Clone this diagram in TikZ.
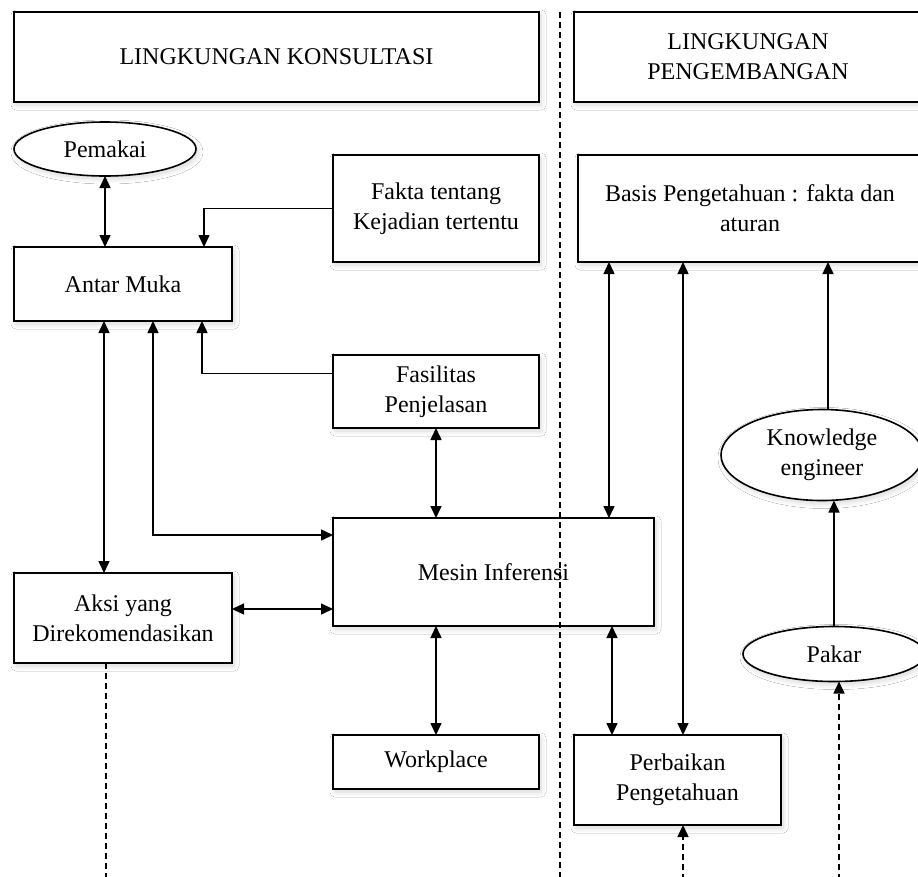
\documentclass[tikz,border=0pt]{standalone}
\usepackage{fontspec}
\setmainfont{Liberation Serif}
\usetikzlibrary{arrows.meta,shapes.geometric,shadows.blur}

\begin{document}
\begin{tikzpicture}[x=1pt,y=-1pt,
  >={Triangle[length=12pt,width=11pt]},
  every node/.style={font=\fontsize{24}{30}\selectfont, align=center, inner sep=0pt, outer sep=0pt},
  soft/.style={blur shadow={shadow xshift=2pt, shadow yshift=-3pt, shadow blur radius=5pt, shadow blur steps=12, shadow opacity=16}},
  box/.style={draw=black, line width=1.6pt, fill=white, rectangle, soft},
  oval/.style={draw=black, line width=1.6pt, fill=white, ellipse, soft},
  link/.style={line width=1.5pt, ->},
  both/.style={line width=1.5pt, <->},
  divider/.style={line width=1.5pt, dash pattern=on 6pt off 4pt},
]
\useasboundingbox (0,0) rectangle (918,876);
\fill[white] (0,0) rectangle (918,876);
\clip (0,0) rectangle (918,876);

% headers
\node[box, minimum width=525pt, minimum height=90pt] (konsul) at (276.5,57) {LINGKUNGAN KONSULTASI};
\node[box, minimum width=348pt, minimum height=90pt] (pengemb) at (748,57) {LINGKUNGAN\\PENGEMBANGAN};

% consultation side
\node[oval, minimum width=182pt, minimum height=54pt] (pemakai) at (105,149) {Pemakai};
\node[box, minimum width=218pt, minimum height=74pt] (antar) at (123,284) {Antar Muka};
\node[box, minimum width=206pt, minimum height=107pt] (fakta) at (436,208.5) {Fakta tentang\\Kejadian tertentu};
\node[box, minimum width=206pt, minimum height=73pt] (fasil) at (436,391.5) {Fasilitas\\Penjelasan};
\node[box, minimum width=321pt, minimum height=108pt] (mesin) at (493.5,572) {Mesin Inferensi};
\node[box, minimum width=218pt, minimum height=90pt] (aksi) at (123,618) {Aksi yang\\Direkomendasikan};
\node[box, minimum width=206pt, minimum height=54pt] (work) at (436,762) {Workplace};

% development side
\node[box, minimum width=344pt, minimum height=107pt] (basis) at (750,208.5) {Basis Pengetahuan : fakta dan\\aturan};
\node[oval, minimum width=202pt, minimum height=91pt] (ke) at (822,455) {Knowledge\\engineer};
\node[oval, minimum width=182pt, minimum height=55pt] (pakar) at (834,654) {Pakar};
\node[box, minimum width=207pt, minimum height=90pt] (perb) at (677.5,780) {Perbaikan\\Pengetahuan};

% free ends at the lower edge and the divider
\coordinate (divtop) at (560,12);
\coordinate (divbot) at (560,880);
\coordinate (e1) at (839,880);
\coordinate (e2) at (683,880);
\coordinate (e3) at (106,880);

% connectors, consultation side
\draw[both] (pemakai.south) -- (pemakai.south |- antar.north);
\draw[link] (fakta.west) -| ([xshift=81pt]antar.north);
\draw[both] ([xshift=-19pt]antar.south) -- ([xshift=-19pt]aksi.north);
\draw[both] ([xshift=30pt]antar.south) |- ([yshift=37pt]mesin.west);
\draw[link] ([yshift=18pt]fasil.west) -| ([xshift=79pt]antar.south);
\draw[both] (fasil.south) -- (fasil.south |- mesin.north);
\draw[both] ([yshift=9pt]aksi.east) -- ([yshift=9pt]aksi.east -| mesin.west);
\draw[both] (mesin.south -| work.north) -- (work.north);

% connectors, development side
\draw[both] ([xshift=-141pt]basis.south) -- ([xshift=-141pt]basis.south |- mesin.north);
\draw[both] ([xshift=-67pt]basis.south) -- ([xshift=-67pt]basis.south |- perb.north);
\draw[both] ([xshift=-65.5pt]perb.north |- mesin.south) -- ([xshift=-65.5pt]perb.north);
\draw[link] ([xshift=6pt]ke.north) -- ([xshift=6pt]ke.north |- basis.south);
\draw[link] (pakar.north) -- (pakar.north |- ke.south);

% dashed lines
\draw[link, dash pattern=on 6pt off 4pt] (e1) -- (e1 |- pakar.south);
\draw[link, dash pattern=on 6pt off 4pt] (e2) -- (e2 |- perb.south);
\draw[divider] (aksi.south -| e3) -- (e3);
\draw[divider] (divtop) -- (divbot);
\end{tikzpicture}
\end{document}
